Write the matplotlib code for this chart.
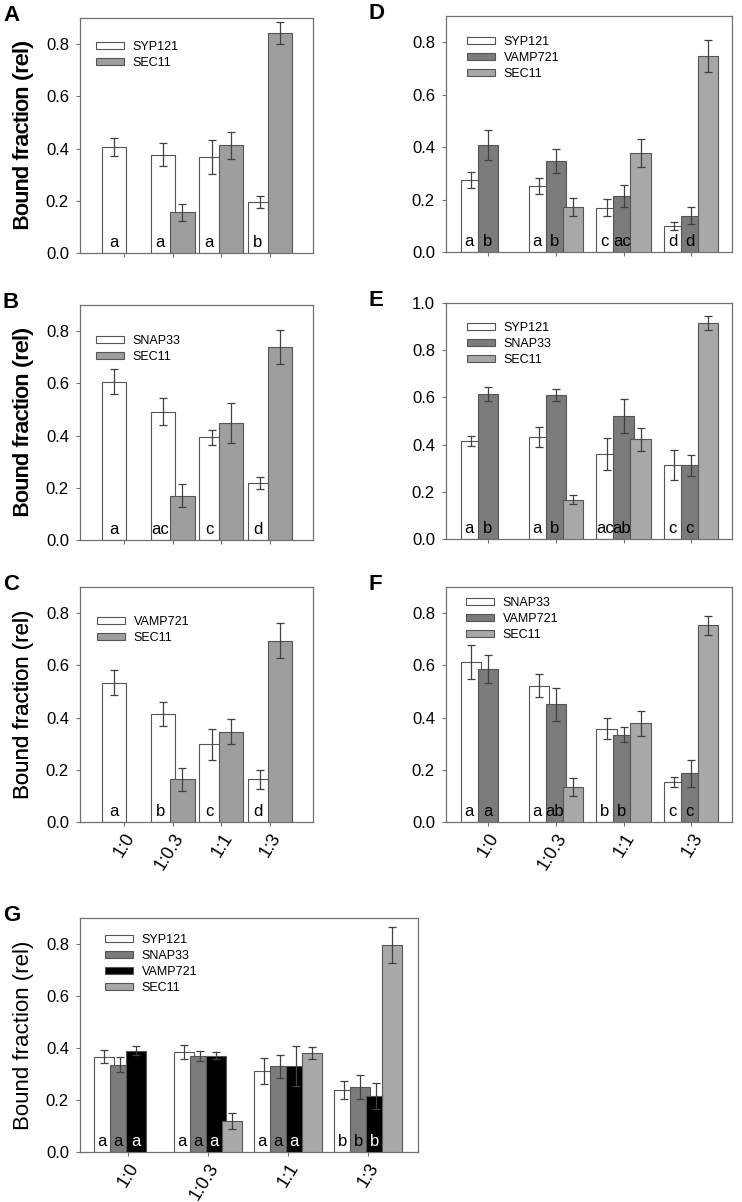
import numpy as np
import matplotlib
matplotlib.use('Agg')
import matplotlib.pyplot as plt
from matplotlib.patches import Patch

plt.rcParams['font.family'] = ['Liberation Sans', 'DejaVu Sans']

W_PX, H_PX, DPI = 742, 1202, 100

ratios = ['1:0', '1:0.3', '1:1', '1:3']
nan = np.nan

# panel A
a_syp121 = [0.405, 0.377, 0.367, 0.194]
a_syp121_err = [0.035, 0.045, 0.064, 0.023]
a_sec11 = [nan, 0.156, 0.412, 0.844]
a_sec11_err = [nan, 0.032, 0.051, 0.042]
a_syp121_let = ['a', 'a', 'a', 'b']

# panel B
b_snap33 = [0.606, 0.491, 0.393, 0.217]
b_snap33_err = [0.047, 0.051, 0.028, 0.023]
b_sec11 = [nan, 0.170, 0.449, 0.739]
b_sec11_err = [nan, 0.043, 0.077, 0.064]
b_snap33_let = ['a', 'ac', 'c', 'd']

# panel C
c_vamp721 = [0.534, 0.415, 0.297, 0.164]
c_vamp721_err = [0.049, 0.046, 0.058, 0.037]
c_sec11 = [nan, 0.163, 0.346, 0.695]
c_sec11_err = [nan, 0.045, 0.047, 0.067]
c_vamp721_let = ['a', 'b', 'c', 'd']

# panel D
d_syp121 = [0.274, 0.252, 0.169, 0.099]
d_syp121_err = [0.031, 0.032, 0.032, 0.016]
d_vamp721 = [0.408, 0.346, 0.214, 0.138]
d_vamp721_err = [0.057, 0.046, 0.041, 0.032]
d_sec11 = [nan, 0.173, 0.378, 0.749]
d_sec11_err = [nan, 0.034, 0.052, 0.061]
d_syp121_let = ['a', 'a', 'c', 'd']
d_vamp721_let = ['b', 'b', 'ac', 'd']

# panel E
e_syp121 = [0.416, 0.431, 0.360, 0.314]
e_syp121_err = [0.022, 0.042, 0.066, 0.065]
e_snap33 = [0.615, 0.610, 0.521, 0.312]
e_snap33_err = [0.031, 0.025, 0.071, 0.044]
e_sec11 = [nan, 0.167, 0.422, 0.914]
e_sec11_err = [nan, 0.019, 0.050, 0.030]
e_syp121_let = ['a', 'a', 'ac', 'c']
e_snap33_let = ['b', 'b', 'ab', 'c']

# panel F
f_snap33 = [0.611, 0.522, 0.358, 0.154]
f_snap33_err = [0.065, 0.043, 0.042, 0.019]
f_vamp721 = [0.586, 0.451, 0.335, 0.186]
f_vamp721_err = [0.054, 0.064, 0.029, 0.051]
f_sec11 = [nan, 0.134, 0.378, 0.753]
f_sec11_err = [nan, 0.036, 0.049, 0.035]
f_snap33_let = ['a', 'a', 'b', 'c']
f_vamp721_let = ['a', 'ab', 'b', 'c']

# panel G
g_syp121 = [0.367, 0.384, 0.311, 0.239]
g_syp121_err = [0.026, 0.028, 0.050, 0.036]
g_snap33 = [0.335, 0.370, 0.330, 0.251]
g_snap33_err = [0.029, 0.020, 0.044, 0.046]
g_vamp721 = [0.390, 0.371, 0.329, 0.215]
g_vamp721_err = [0.018, 0.014, 0.077, 0.050]
g_sec11 = [nan, 0.119, 0.380, 0.796]
g_sec11_err = [nan, 0.031, 0.024, 0.070]
g_letters = ['a', 'a', 'a', 'b']

WHITE = '#ffffff'
MID = '#9e9e9e'
DARK = '#7b7b7b'
LIGHT = '#a8a8a8'
BLACK = '#000000'
EDGE = '#555555'


def add_axes(fig, left, top, right, bottom):
    return fig.add_axes([left / W_PX, 1 - bottom / H_PX,
                         (right - left) / W_PX, (bottom - top) / H_PX])


def draw_panel(fig, rect, letter, series, width, offsets, xlim, ylim,
               legend_off, show_xlabels):
    left, top, right, bottom = rect
    ax = add_axes(fig, *rect)
    x = np.arange(len(ratios))
    for k, (name, vals, errs, lets, color, tcolor) in enumerate(series):
        vals = np.array(vals, dtype=float)
        errs = np.array(errs, dtype=float)
        ok = ~np.isnan(vals)
        xs = x[ok] + offsets[k]
        ax.bar(xs, vals[ok], width=width, color=color, edgecolor=EDGE,
               linewidth=0.8, zorder=2 + k)
        ax.errorbar(xs, vals[ok], yerr=errs[ok], fmt='none', ecolor='#404040',
                    elinewidth=0.9, capsize=2.6, capthick=0.9, zorder=10)
        if lets is None:
            continue
        for i in range(len(ratios)):
            xl = x[i] + offsets[k] - width / 2
            xr = x[i] + offsets[k] + width / 2
            if k + 1 < len(series) and not np.isnan(series[k + 1][1][i]):
                xr = x[i] + offsets[k + 1] - width / 2
            ax.annotate(lets[i], ((xl + xr) / 2, 0), xytext=(0, 2.2),
                        textcoords='offset points', ha='center', va='bottom',
                        fontsize=12, color=tcolor, zorder=20)
    ax.set_xlim(*xlim)
    ax.set_ylim(*ylim)
    ax.set_xticks(x)
    if show_xlabels:
        ax.set_xticklabels(ratios, rotation=58, ha='right', va='top',
                           rotation_mode='anchor', fontsize=13)
    else:
        ax.set_xticklabels([])
    ax.set_yticks(np.arange(0, ylim[1] + 0.001, 0.2))
    ax.set_yticklabels(['%.1f' % v for v in np.arange(0, ylim[1] + 0.001, 0.2)],
                       fontsize=12)
    ax.tick_params(direction='out', length=3, width=0.8, color='#707070', pad=5)
    ax.tick_params(axis='x', pad=3)
    for sp in ax.spines.values():
        sp.set_color('#707070')
        sp.set_linewidth(0.9)
    ax.set_ylabel('Bound fraction (rel)', fontsize=16, fontweight='normal')
    ax.yaxis.set_label_coords(-(left - 34) / (right - left), 0.5)

    handles = [Patch(facecolor=s[4], edgecolor=EDGE, linewidth=0.8) for s in series]
    dx, dy = legend_off
    ax.legend(handles, [s[0] for s in series], loc='upper left', frameon=False,
              fontsize=9, handlelength=2.25, handleheight=0.5, handletextpad=0.7,
              labelspacing=0.32, borderpad=0, borderaxespad=0,
              bbox_to_anchor=(dx / (right - left), 1 - (dy - 7) / (bottom - top)))

    fig.text((left - 77) / W_PX, 1 - (top - 13) / H_PX, letter, fontsize=16,
             fontweight='bold', ha='left', va='top')
    return ax


fig = plt.figure(figsize=(W_PX / DPI, H_PX / DPI), dpi=DPI)

two = dict(width=0.5, offsets=[-0.2, 0.2], xlim=(-0.9, 3.88))
three = dict(width=0.3, offsets=[-0.25, 0.0, 0.25], xlim=(-0.62, 3.6))

draw_panel(fig, (80, 18, 313, 253), 'A',
           [('SYP121', a_syp121, a_syp121_err, a_syp121_let, WHITE, 'black'),
            ('SEC11', a_sec11, a_sec11_err, None, MID, 'black')],
           ylim=(0, 0.9), legend_off=(16, 30), show_xlabels=False, **two)
draw_panel(fig, (80, 305, 313, 540), 'B',
           [('SNAP33', b_snap33, b_snap33_err, b_snap33_let, WHITE, 'black'),
            ('SEC11', b_sec11, b_sec11_err, None, MID, 'black')],
           ylim=(0, 0.9), legend_off=(16, 37), show_xlabels=False, **two)
draw_panel(fig, (80, 587, 313, 822), 'C',
           [('VAMP721', c_vamp721, c_vamp721_err, c_vamp721_let, WHITE, 'black'),
            ('SEC11', c_sec11, c_sec11_err, None, MID, 'black')],
           ylim=(0, 0.9), legend_off=(17, 36), show_xlabels=True, **two)

draw_panel(fig, (446, 16, 732, 252), 'D',
           [('SYP121', d_syp121, d_syp121_err, d_syp121_let, WHITE, 'black'),
            ('VAMP721', d_vamp721, d_vamp721_err, d_vamp721_let, DARK, 'black'),
            ('SEC11', d_sec11, d_sec11_err, None, LIGHT, 'black')],
           ylim=(0, 0.9), legend_off=(21, 27), show_xlabels=False, **three)
draw_panel(fig, (446, 303, 732, 539), 'E',
           [('SYP121', e_syp121, e_syp121_err, e_syp121_let, WHITE, 'black'),
            ('SNAP33', e_snap33, e_snap33_err, e_snap33_let, DARK, 'black'),
            ('SEC11', e_sec11, e_sec11_err, None, LIGHT, 'black')],
           ylim=(0, 1.0), legend_off=(21, 26), show_xlabels=False, **three)
draw_panel(fig, (446, 587, 732, 822), 'F',
           [('SNAP33', f_snap33, f_snap33_err, f_snap33_let, WHITE, 'black'),
            ('VAMP721', f_vamp721, f_vamp721_err, f_vamp721_let, DARK, 'black'),
            ('SEC11', f_sec11, f_sec11_err, None, LIGHT, 'black')],
           ylim=(0, 0.9), legend_off=(20, 17), show_xlabels=True, **three)

draw_panel(fig, (80, 918, 418, 1152), 'G',
           [('SYP121', g_syp121, g_syp121_err, g_letters, WHITE, 'black'),
            ('SNAP33', g_snap33, g_snap33_err, g_letters, DARK, 'black'),
            ('VAMP721', g_vamp721, g_vamp721_err, g_letters, BLACK, 'white'),
            ('SEC11', g_sec11, g_sec11_err, None, LIGHT, 'black')],
           width=0.24, offsets=[-0.3, -0.1, 0.1, 0.3], xlim=(-0.6, 3.625),
           ylim=(0, 0.9), legend_off=(25, 23), show_xlabels=True)

fig.savefig('out.png', dpi=DPI)
